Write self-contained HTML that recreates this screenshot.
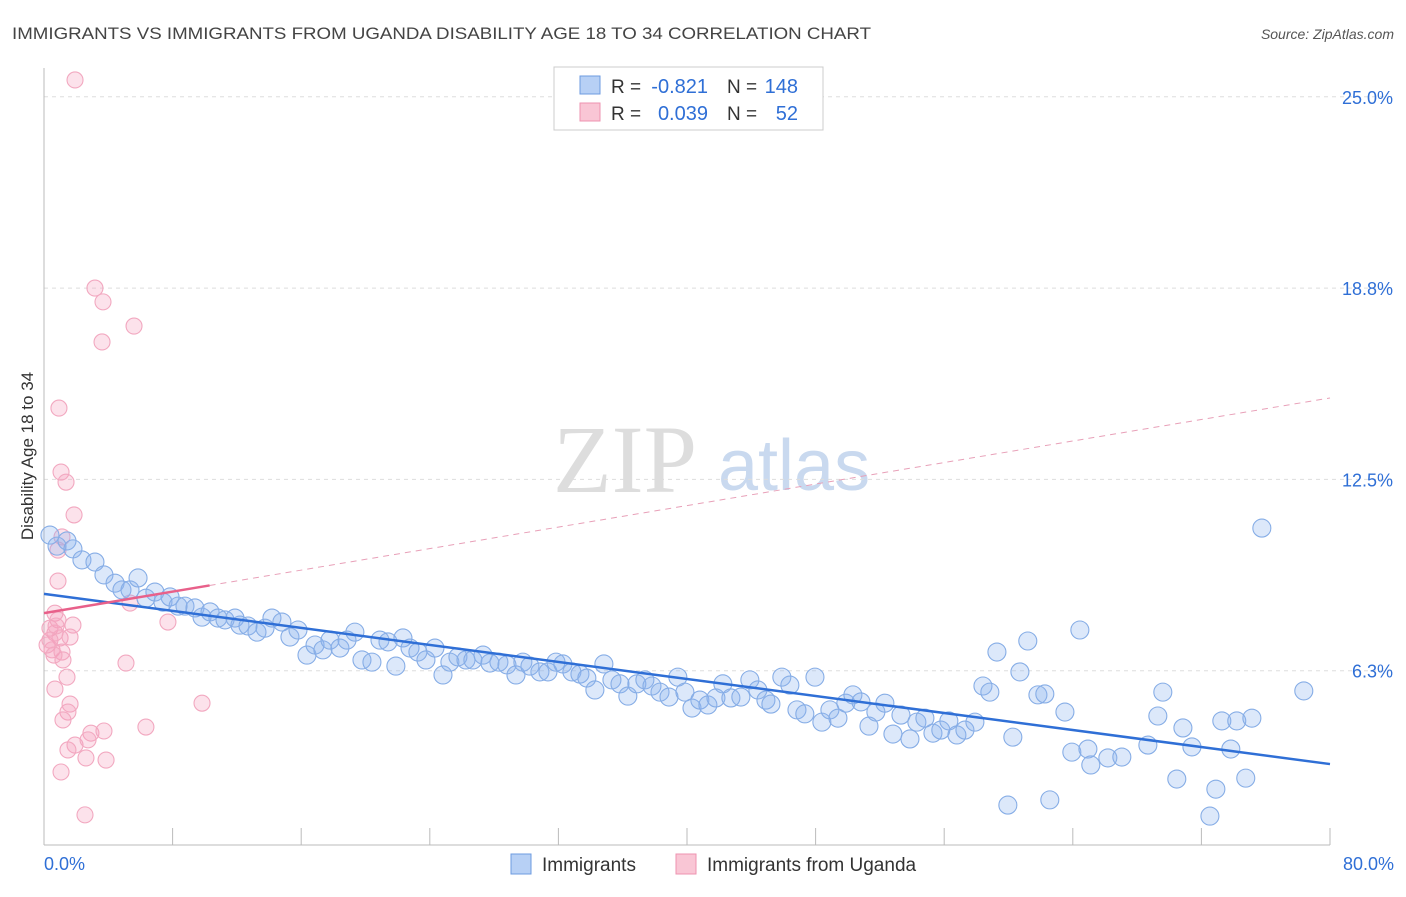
<!DOCTYPE html>
<html><head><meta charset="utf-8"><style>
body{margin:0;background:#fff;font-family:"Liberation Sans",sans-serif}
svg text{font-family:"Liberation Sans",sans-serif}
</style></head><body>
<svg id="chart" width="1406" height="892" xmlns="http://www.w3.org/2000/svg">
<text x="12" y="39" font-size="17" fill="#444" textLength="859" lengthAdjust="spacingAndGlyphs">IMMIGRANTS VS IMMIGRANTS FROM UGANDA DISABILITY AGE 18 TO 34 CORRELATION CHART</text>
<text x="1394" y="39" font-size="14" fill="#555" text-anchor="end" font-style="italic">Source: ZipAtlas.com</text>
<g>
<text x="553" y="492" font-size="96" fill="#ddd" font-family="Liberation Serif" style="font-family:'Liberation Serif',serif">ZIP</text>
<text x="718" y="490" font-size="72" fill="#c9d9ef">atlas</text>
</g>
<g id="grid"></g>
<g id="axes"></g>
<g id="marks"></g>
<text transform="translate(33,456) rotate(-90)" font-size="17" fill="#333" text-anchor="middle">Disability Age 18 to 34</text>
<g>
<rect x="554" y="67" width="269" height="63" fill="#fff" stroke="#ccc"/>
<rect x="580" y="76" width="20" height="18" fill="#b7d0f5" stroke="#6d9be0"/>
<rect x="580" y="103" width="20" height="18" fill="#f9c6d5" stroke="#ee93b0"/>
<text x="611" y="93" font-size="19" fill="#333">R =</text>
<text x="708" y="93" font-size="20" fill="#2f6fd6" text-anchor="end">-0.821</text>
<text x="727" y="93" font-size="19" fill="#333">N =</text>
<text x="798" y="93" font-size="20" fill="#2f6fd6" text-anchor="end">148</text>
<text x="611" y="120" font-size="19" fill="#333">R =</text>
<text x="708" y="120" font-size="20" fill="#2f6fd6" text-anchor="end">0.039</text>
<text x="727" y="120" font-size="19" fill="#333">N =</text>
<text x="798" y="120" font-size="20" fill="#2f6fd6" text-anchor="end">52</text>
</g>
<g>
<rect x="511" y="854" width="20" height="20" fill="#b7d0f5" stroke="#6d9be0"/>
<text x="542" y="871" font-size="19" fill="#333">Immigrants</text>
<rect x="676" y="854" width="20" height="20" fill="#f9c6d5" stroke="#ee93b0"/>
<text x="707" y="871" font-size="19" fill="#333">Immigrants from Uganda</text>
</g>
</svg>
<script>
const blueX=[0.37,0.81,1.43,1.80,2.36,3.17,3.73,4.42,4.85,5.35,5.85,6.34,6.90,7.40,7.84,8.34,8.77,9.39,9.83,10.33,10.82,11.26,11.88,12.19,12.69,13.25,13.75,14.18,14.80,15.30,15.80,16.36,16.86,17.35,17.79,18.41,18.85,19.34,19.78,20.40,20.90,21.40,21.89,22.33,22.77,23.26,23.76,24.32,24.82,25.25,25.75,26.25,26.68,27.31,27.74,28.30,28.80,29.36,29.79,30.23,30.85,31.35,31.85,32.28,32.84,33.34,33.77,34.27,34.83,35.33,35.83,36.32,36.88,37.38,37.82,38.32,38.88,39.43,39.87,40.31,40.80,41.30,41.80,42.23,42.73,43.35,43.91,44.41,44.91,45.22,45.90,46.40,46.84,47.33,47.96,48.39,48.89,49.39,49.88,50.32,50.82,51.32,51.75,52.31,52.81,53.31,53.87,54.30,54.80,55.30,55.79,56.29,56.79,57.29,57.91,58.41,58.84,59.28,60.27,60.71,61.20,61.83,62.26,62.57,63.51,63.94,64.44,64.94,65.12,66.18,67.05,68.67,69.29,69.60,70.47,70.85,71.41,72.90,73.27,73.83,74.20,74.76,75.14,75.76,78.37,59.96,72.53];
const blueY=[10.68,10.32,10.49,10.23,9.87,9.80,9.38,9.11,8.89,8.89,9.28,8.62,8.82,8.49,8.66,8.36,8.36,8.30,8.00,8.17,7.97,7.91,7.97,7.74,7.71,7.51,7.64,7.97,7.84,7.35,7.58,6.76,7.09,6.93,7.25,6.99,7.25,7.51,6.60,6.53,7.25,7.19,6.40,7.32,6.99,6.86,6.60,6.99,6.11,6.53,6.70,6.60,6.60,6.76,6.50,6.53,6.44,6.11,6.53,6.40,6.21,6.21,6.53,6.47,6.21,6.14,6.01,5.62,6.47,5.95,5.82,5.42,5.82,5.95,5.75,5.55,5.39,6.04,5.55,5.03,5.29,5.13,5.36,5.82,5.36,5.39,5.95,5.62,5.29,5.16,6.04,5.78,4.97,4.84,6.04,4.57,4.97,4.70,5.19,5.46,5.23,4.44,4.90,5.19,4.18,4.80,4.02,4.57,4.70,4.21,4.31,4.61,4.15,4.31,4.57,5.75,5.55,6.86,4.08,6.21,7.22,5.46,5.49,2.03,4.90,3.59,7.58,3.69,3.17,3.40,3.43,3.82,4.77,5.55,2.71,4.38,3.76,2.38,4.61,3.69,4.61,2.74,4.70,10.91,5.59,1.86,1.50];
const pinkX=[1.93,3.17,3.67,3.61,5.60,0.93,1.06,1.37,1.87,1.12,0.87,0.87,0.68,1.80,0.87,0.37,0.68,1.00,1.62,0.19,0.50,1.12,1.18,0.62,5.35,7.71,5.10,1.43,0.68,1.62,1.49,1.18,1.93,1.49,2.92,2.74,3.73,6.34,9.83,1.06,2.61,3.86,2.55,0.37,0.75];
const pinkY=[25.55,18.75,18.30,16.99,17.51,14.83,12.74,12.41,11.34,10.62,10.19,9.18,8.13,7.74,7.91,7.64,7.48,7.32,7.35,7.09,6.93,6.86,6.60,6.76,8.46,7.84,6.50,6.04,5.65,5.16,4.90,4.64,3.82,3.66,4.21,3.99,4.28,4.41,5.19,2.94,3.40,3.33,1.54,7.25,7.71];
const blueTrend=[8.76,3.20];   // value at x=0, x=80
const pinkTrend=[8.13,15.16];
const yTicks=[6.3,12.5,18.8,25.0];
const yTickVals=[6.25,12.5,18.75,25.0];
const xTickLabels=["0.0%","80.0%"];

const NS="http://www.w3.org/2000/svg";
const sx=v=>44+v/80*1286;
const sy=v=>862-v/6.25*191.3;
function mk(tag,attrs,parent){const e=document.createElementNS(NS,tag);for(const k in attrs)e.setAttribute(k,attrs[k]);parent.appendChild(e);return e;}
const grid=document.getElementById('grid'),axes=document.getElementById('axes'),marks=document.getElementById('marks');
yTickVals.forEach((v,i)=>{
 const l=mk('line',{x1:44,x2:1394,y1:sy(v),y2:sy(v),stroke:'#ddd','stroke-dasharray':'4,4'},grid);
 
 
 const t=mk('text',{x:1393,y:sy(v)+7,'font-size':18,fill:'#2f6fd6','text-anchor':'end'},axes);
 t.textContent=yTicks[i].toFixed(1)+'%';
 
 
});
let a=mk('line',{x1:44,x2:44,y1:68,y2:845,stroke:'#bbb'},axes);


a=mk('line',{x1:44,x2:1330,y1:845,y2:845,stroke:'#bbb'},axes);


for(let i=0;i<=10;i++){
 const t=mk('line',{x1:sx(i*8),x2:sx(i*8),y1:828,y2:845,stroke:'#bbb'},axes);
 
 
}
[[0,'start',44],[80,'end',1394]].forEach((d,i)=>{
 const t=mk('text',{x:d[2],y:870,'font-size':18,fill:'#2f6fd6','text-anchor':d[1]},axes);
 t.textContent=xTickLabels[i];
 
 
});
pinkX.forEach((x,i)=>{
 const c=mk('circle',{cx:sx(x),cy:sy(pinkY[i]),r:8,fill:'rgba(244,160,190,0.3)',stroke:'#f2a8c0','stroke-width':1.1},marks);
 
 
});
blueX.forEach((x,i)=>{
 const c=mk('circle',{cx:sx(x),cy:sy(blueY[i]),r:9,fill:'rgba(140,180,240,0.3)',stroke:'#86ade6','stroke-width':1.1},marks);
 
 
});
const bt=x=>blueTrend[0]+(blueTrend[1]-blueTrend[0])*x/80;
const pt=x=>pinkTrend[0]+(pinkTrend[1]-pinkTrend[0])*x/80;
let l=mk('line',{x1:sx(0),y1:sy(bt(0)),x2:sx(80),y2:sy(bt(80)),stroke:'#2f6fd6','stroke-width':2.5},marks);


l=mk('line',{x1:sx(10.3),y1:sy(pt(10.3)),x2:sx(80),y2:sy(pt(80)),stroke:'#e8a0b8','stroke-width':1,'stroke-dasharray':'6,5'},marks);


l=mk('line',{x1:sx(0),y1:sy(pt(0)),x2:sx(10.3),y2:sy(pt(10.3)),stroke:'#e8608a','stroke-width':2.5},marks);


</script>
</body></html>
